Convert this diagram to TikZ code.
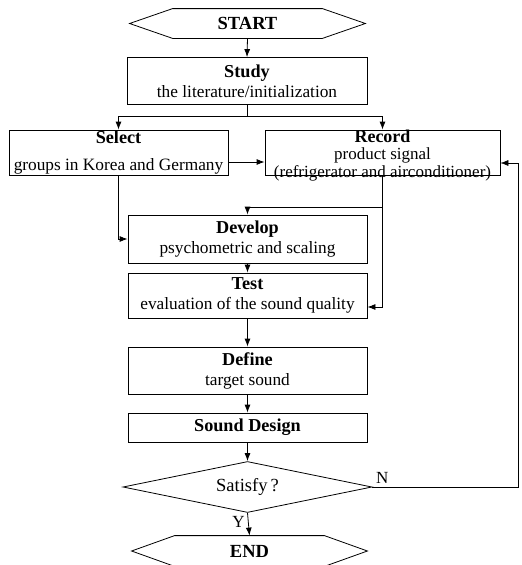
\documentclass[tikz,border=0pt]{standalone}
\usepackage{fontspec}
\setmainfont{Liberation Serif}
\usepackage{tikz}
\usetikzlibrary{arrows.meta,shapes.geometric,calc}

\newcommand{\boxtitle}[1]{{\fontsize{18.2}{20}\selectfont\bfseries #1}}

\begin{document}
\begin{tikzpicture}[x=1pt,y=-1pt,line width=0.8pt,>={Latex[length=8pt,width=6pt]},
  font=\fontsize{17.3}{20}\selectfont,
  block/.style={draw,rectangle,align=center,inner xsep=1pt,inner ysep=0pt},
  term/.style={inner sep=0pt,font=\fontsize{18.5}{20}\selectfont\bfseries},
  decide/.style={draw,diamond,aspect=4.9,inner sep=0pt,minimum width=249,minimum height=51}]
\useasboundingbox (0,0) rectangle (522,565);

% terminals: hexagons round a plain node
\node[term,minimum width=235,minimum height=29] (start) at (247.5,23.5) {START};
\draw ([xshift=43]start.north west) -- ([xshift=-43]start.north east) -- (start.east)
  -- ([xshift=-43]start.south east) -- ([xshift=43]start.south west) -- (start.west) -- cycle;
\node[term,minimum width=235,minimum height=30] (end) at (249.5,551) {END};
\draw ([xshift=43]end.north west) -- ([xshift=-43]end.north east) -- (end.east)
  -- ([xshift=-43]end.south east) -- ([xshift=43]end.south west) -- (end.west) -- cycle;

% process blocks
\node[block,minimum width=240,minimum height=47] (study) at (247,81)
  {\boxtitle{Study}\\the literature/initialization};
\node[block,minimum width=219,minimum height=45] (select) at (118.5,152.5)
  {\boxtitle{Select}\\[7pt]groups in Korea and Germany};
\node[block,minimum width=235,minimum height=45,inner ysep=-6pt,
  font=\fontsize{17}{17.6}\selectfont] (record) at (382.5,152.5)
  {\rule{0pt}{18pt}{\fontsize{18}{17.6}\selectfont\bfseries Record}\\product signal\\(refrigerator and airconditioner)};
\node[block,minimum width=239,minimum height=48] (develop) at (247.5,239)
  {\boxtitle{Develop}\\psychometric and scaling};
\node[block,minimum width=239,minimum height=45] (test) at (247.5,295.5)
  {\boxtitle{Test}\\evaluation of the sound quality};
\node[block,minimum width=239,minimum height=47] (define) at (247.5,370.5)
  {\boxtitle{Define}\\target sound};
\node[block,minimum width=239,minimum height=29] (design) at (247.5,427.5)
  {\boxtitle{Sound Design}};
\node[decide,font=\fontsize{18.5}{20}\selectfont] (satisfy) at (247.5,487) {Satisfy\,?};

% connectors
\draw[->] (start.south) -- (study.north);
\draw (study.south) -- ++(0,11) coordinate (fork);
\draw[->] (fork) -| (select.north);
\draw[->] (fork) -| (record.north);
\draw[->] ([yshift=-9.5]select.east) -- ([yshift=-9.5]record.west);
\draw[->] (select.south) |- (develop.west);
\draw (record.south) -- ++(0,32) coordinate (join);
\draw[->] (join) -| (develop.north);
\draw[->] (join) |- ([yshift=-11.5]test.east);
\draw[->] (develop.south) -- (test.north);
\draw[->] (test.south) -- (define.north);
\draw[->] (define.south) -- (design.north);
\draw[->] (design.south) -- (satisfy.north);
\draw[->] (satisfy.south) -- node[left,pos=0.4,font=\fontsize{17}{18}\selectfont] {Y} (end.north);
\coordinate (back) at (518,487);
\draw[->,line width=0.6pt] (satisfy.east) node[above right,font=\fontsize{17}{18}\selectfont] {N}
  -- (back) |- ([yshift=-10.5]record.east);
\end{tikzpicture}
\end{document}
